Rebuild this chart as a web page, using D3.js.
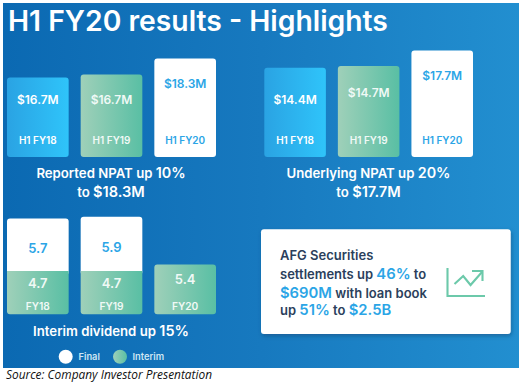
<!DOCTYPE html>
<html><head><meta charset="utf-8">
<script src="https://cdn.jsdelivr.net/npm/d3@7"></script>
<style>html,body{margin:0;padding:0;background:#fff}svg{display:block}text{font-family:Inter,Lato,sans-serif;font-weight:600}</style>
</head><body><svg id="c" width="522" height="383"></svg>
<script>
const title = "H1 FY20 results - Highlights";
const halfYears = ["H1 FY18","H1 FY19","H1 FY20"];
const years = ["FY18","FY19","FY20"];
const reportedLabels = ["$16.7M","$16.7M","$18.3M"];
// bar levels as drawn in the picture (the first bar is drawn shorter than its label says)
const reportedLevels = [16.4,16.7,18.3];
const underlyingLabels = ["$14.4M","$14.7M","$17.7M"];
const underlyingLevels = [14.35,14.7,17.7];
const interim = [4.7,4.7,5.4];
const finalDiv = [5.7,5.9,null];
const trendX = [0,0.95,1.75,3];
const trendY = [1,2.33,0.83,3];

const W=522,H=383;
const svg=d3.select("#c");
const defs=svg.append("defs");
function grad(id,x1,y1,x2,y2,stops){
  const g=defs.append("linearGradient").attr("id",id).attr("x1",x1).attr("y1",y1).attr("x2",x2).attr("y2",y2);
  stops.forEach(s=>g.append("stop").attr("offset",s[0]).attr("stop-color",s[1]));
}
grad("bg",0,0,1,0,[[0,"#0b69b2"],[0.5,"#1779bf"],[1,"#228fd0"]]);
grad("blue",0,0,1,0,[[0,"#2aa3e3"],[1,"#2fc4fa"]]);
grad("green",0,0,1,0,[[0,"#9fd0b9"],[1,"#59bfa4"]]);
const f=defs.append("filter").attr("id","sh").attr("x","-5%").attr("y","-10%").attr("width","110%").attr("height","125%");
f.append("feDropShadow").attr("dx",1).attr("dy",2).attr("stdDeviation",2).attr("flood-color","#0a3f6e").attr("flood-opacity",0.5);

svg.append("rect").attr("x",3).attr("y",3).attr("width",516).attr("height",365).attr("fill","url(#bg)");
svg.append("text").attr("x",8).attr("y",31).attr("fill","#fff").attr("font-size",28.3).text(title);

function txt(x,y,s,size,fill,anchor="middle"){
  return svg.append("text").attr("x",x).attr("y",y).attr("font-size",size).attr("fill",fill).attr("text-anchor",anchor).text(s);
}
const fills=["url(#blue)","url(#green)","#fff"], inks=["#fff","#f0f9f6","#2ba5e6"];

function panel(x0,x1,yScale,levels,labels,labelY){
  const x=d3.scaleBand().domain(halfYears).range([x0,x1]).paddingInner(0.163);
  const base=157;
  svg.append("g").selectAll("rect").data(levels).join("rect")
    .attr("x",(d,i)=>x(halfYears[i])).attr("width",x.bandwidth())
    .attr("y",d=>yScale(d)).attr("height",d=>base-yScale(d))
    .attr("rx",3).attr("fill",(d,i)=>fills[i]);
  labels.forEach((s,i)=>{
    const cx=x(halfYears[i])+x.bandwidth()/2;
    txt(cx,labelY[i],s,12,inks[i]);
    txt(cx,144,halfYears[i],10,inks[i]);
  });
  return x;
}
const y1=d3.scaleLinear().domain([8.45,18.3]).range([157,58.5]);
const y2=d3.scaleLinear().domain([-2.9,17.7]).range([157,50.5]);
panel(7,216,y1,reportedLevels,reportedLabels,[104,104,88]);
panel(264.3,473,y2,underlyingLevels,underlyingLabels,[104,97,80]);

function caption(cx,y,parts,sizes){
  const t=svg.append("text").attr("x",cx).attr("y",y).attr("text-anchor","middle").attr("fill","#fff");
  parts.forEach((p,i)=>t.append("tspan").attr("font-size",sizes[i]).text(p));
}
caption(111,178,["Reported NPAT up ","10%"],[13.2,14.3]);
caption(111,197,["to ","$18.3M"],[13.2,14.6]);
caption(368.5,178,["Underlying NPAT up ","20%"],[13.2,14.3]);
caption(368.5,197,["to ","$17.7M"],[13.2,14.6]);

// dividend stacked bars
const xD=d3.scaleBand().domain(years).range([7,216]).paddingInner(0.163);
const yD=d3.scaleLinear().domain([0,10.6]).range([314.3,216.7]);
svg.append("g").selectAll("rect").data(years.filter((d,i)=>finalDiv[i]!=null)).join("rect")
  .attr("x",d=>xD(d)).attr("width",xD.bandwidth())
  .attr("y",(d,i)=>yD(interim[i]+finalDiv[i])).attr("height",(d,i)=>yD(interim[i])-yD(interim[i]+finalDiv[i])+4)
  .attr("rx",3).attr("fill","#fff");
svg.append("g").selectAll("path").data(years).join("path")
  .attr("d",(d,i)=>{
    const l=xD(d),r=l+xD.bandwidth(),t=yD(interim[i]),b=yD(0),q=3;
    return i===2 ? `M${l+q},${t}H${r-q}Q${r},${t} ${r},${t+q}V${b-q}Q${r},${b} ${r-q},${b}H${l+q}Q${l},${b} ${l},${b-q}V${t+q}Q${l},${t} ${l+q},${t}Z`
                 : `M${l},${t}H${r}V${b-q}Q${r},${b} ${r-q},${b}H${l+q}Q${l},${b} ${l},${b-q}Z`;
  }).attr("fill","url(#green)");
years.forEach((d,i)=>{
  const cx=xD(d)+xD.bandwidth()/2;
  if(finalDiv[i]!=null) txt(cx,[253,251.5][i],finalDiv[i].toFixed(1),13,"#2ba5e6");
  txt(cx,i===2?284:288,interim[i].toFixed(1),13,"#f0f9f6");
  txt(cx,309.5,d,10.2,"#f0f9f6");
});
caption(111,336,["Interim dividend up ","15%"],[13.2,14.4]);

svg.append("circle").attr("cx",65.7).attr("cy",356.7).attr("r",7).attr("fill","#fff");
svg.append("circle").attr("cx",120).attr("cy",356.7).attr("r",7).attr("fill","url(#green)");
txt(78.5,360,"Final",9.3,"#cfe6f3","start");
txt(132.5,360,"Interim",9.3,"#cfe6f3","start");

// card
svg.append("rect").attr("x",261).attr("y",229.3).attr("width",249.7).attr("height",104.7).attr("rx",3).attr("fill","#fff").attr("filter","url(#sh)");
const dark="#2b3f5c",bl="#2ba5e6";
function rich(y,parts){
  const t=svg.append("text").attr("x",280).attr("y",y).attr("fill",dark);
  parts.forEach(p=>t.append("tspan").attr("font-size",p[1]?14.8:13).attr("fill",p[1]?bl:dark).text(p[0]));
}
rich(260,[["AFG Securities",0]]);
rich(279,[["settlements up ",0],["46%",1],[" to",0]]);
rich(298,[["$690M",1],[" with loan book",0]]);
rich(315,[["up ",0],["51%",1],[" to ",0],["$2.5B",1]]);

// icon
const iconX=d3.scaleLinear().domain([0,3]).range([454.5,482]);
const iconY=d3.scaleLinear().domain([1,3]).range([284,272]);
const ig=svg.append("g").attr("fill","none").attr("stroke","#6cc9aa").attr("stroke-width",2.1);
ig.append("path").attr("d",d3.line()([[447.5,268],[447.5,296],[485,296]]));
ig.append("path").attr("d",d3.line().x((d,i)=>iconX(trendX[i])).y((d,i)=>iconY(trendY[i]))(trendX));
ig.append("path").attr("d",d3.line()([[iconX(3)-10,271],[iconX(3)+0.5,271],[iconX(3)+0.5,281]]));

svg.append("text").attr("x",6).attr("y",379).attr("font-size",11.9).attr("fill","#111")
  .style("font-family","'Open Sans',sans-serif").style("font-weight",400).style("font-style","italic")
  .text("Source: Company Investor Presentation");
</script></body></html>
